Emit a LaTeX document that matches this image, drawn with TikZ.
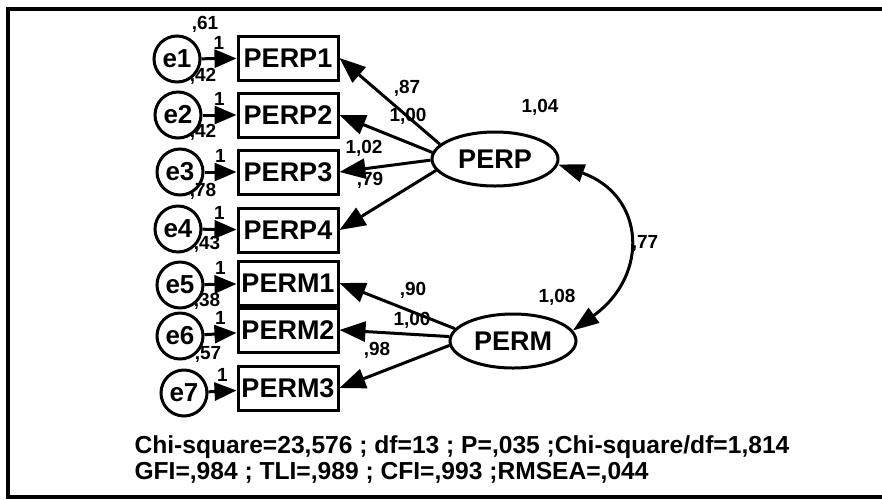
\documentclass[tikz,border=0pt]{standalone}
\usepackage{fontspec}
\setmainfont{Liberation Sans}
\usetikzlibrary{arrows.meta,positioning,shapes.geometric}

\begin{document}
\begin{tikzpicture}[
  x=0.5pt, y=-0.5pt, line width=1.5pt,
  obsbox/.style={draw, rectangle, minimum width=50pt, minimum height=22pt, inner sep=0pt, font=\fontsize{13.5}{15}\selectfont\bfseries},
  errcirc/.style={draw, circle, minimum size=23pt, inner sep=0pt, font=\fontsize{13}{14}\selectfont\bfseries},
  latvar/.style={draw, ellipse, minimum width=63pt, minimum height=27pt, inner sep=0pt, font=\fontsize{13.5}{15}\selectfont\bfseries},
  coef/.style={inner sep=0pt, font=\fontsize{9.5}{11}\selectfont\bfseries},
  errarrow/.style={-{Triangle[length=11pt,width=9pt]}},
  loadarrow/.style={-{Triangle[length=13pt,width=10pt]}},
  corrarrow/.style={{Triangle[length=13pt,width=9pt]}-{Triangle[length=13pt,width=9pt]}},
]
\useasboundingbox (0,0) rectangle (882,499);

% --- frame ---
\draw[line width=2pt] (895,9) -- (8,9) -- (8,497) -- (895,497);

% --- indicators with their error terms ---
\foreach \i/\lab/\ex/\ey/\by in {1/PERP1/177/59/58, 2/PERP2/178/115/115, 3/PERP3/180/172/172,
    4/PERP4/178/229/230, 5/PERM1/180/285/283, 6/PERM2/180/336/330, 7/PERM3/184/393/388} {
  \node[obsbox] (box\i) at (288,\by) {\lab};
  \node[errcirc] (e\i) at (\ex,\ey) {e\i};
  \draw[errarrow] (e\i) -- (box\i) node[coef, midway, above=4pt] (one\i) {1};
}

% error variances
\foreach \i/\vx/\vy/\val in {1/205/24/{,61}, 2/203/76/{,42}, 3/203/132/{,42}, 4/203/191/{,78},
    5/207/244/{,43}, 6/207/301/{,38}, 7/208/354/{,57}}
  \node[coef] (var\i) at (\vx,\vy) {\val};

% --- latent factors ---
\node[latvar] (PERP) at (495,159) {PERP};
\node[latvar] (PERM) at (513,341) {PERM};
\node[coef] (vPERP) at (540,107) {1,04};
\node[coef] (vPERM) at (557,297) {1,08};

% --- loadings ---
\draw[loadarrow] (PERP.165) -- (box1.east);
\draw[loadarrow] (PERP.174) -- (box2.east);
\draw[loadarrow] (PERP.181) -- (box3.east);
\draw[loadarrow] (PERP.191) -- (box4.east);
\draw[loadarrow] (PERM.168) -- (box5.east);
\draw[loadarrow] (PERM.176) -- (box6.east);
\draw[loadarrow] (PERM.184) -- (box7.east);

\node[coef] (l1) at (407,88) {,87};
\node[coef] (l2) at (408,116) {1,00};
\node[coef] (l3) at (364,148) {1,02};
\node[coef] (l4) at (370,180) {,79};
\node[coef] (l5) at (413,290) {,90};
\node[coef] (l6) at (412,320) {1,00};
\node[coef] (l7) at (377,350) {,98};

% --- factor covariance ---
\draw[corrarrow] (PERP.-5) .. controls (645,195) and (650,275) .. (PERM.10);
\node[coef] (rho) at (645,243) {,77};

% --- fit indices ---
\node[anchor=north west, inner sep=0pt, align=left, font=\fontsize{12.3}{13}\selectfont\bfseries] (fit) at (133,434)
  {Chi-square=23,576 ; df=13 ; P=,035 ;Chi-square/df=1,814\\GFI=,984 ; TLI=,989 ; CFI=,993 ;RMSEA=,044};

\end{tikzpicture}
\end{document}
